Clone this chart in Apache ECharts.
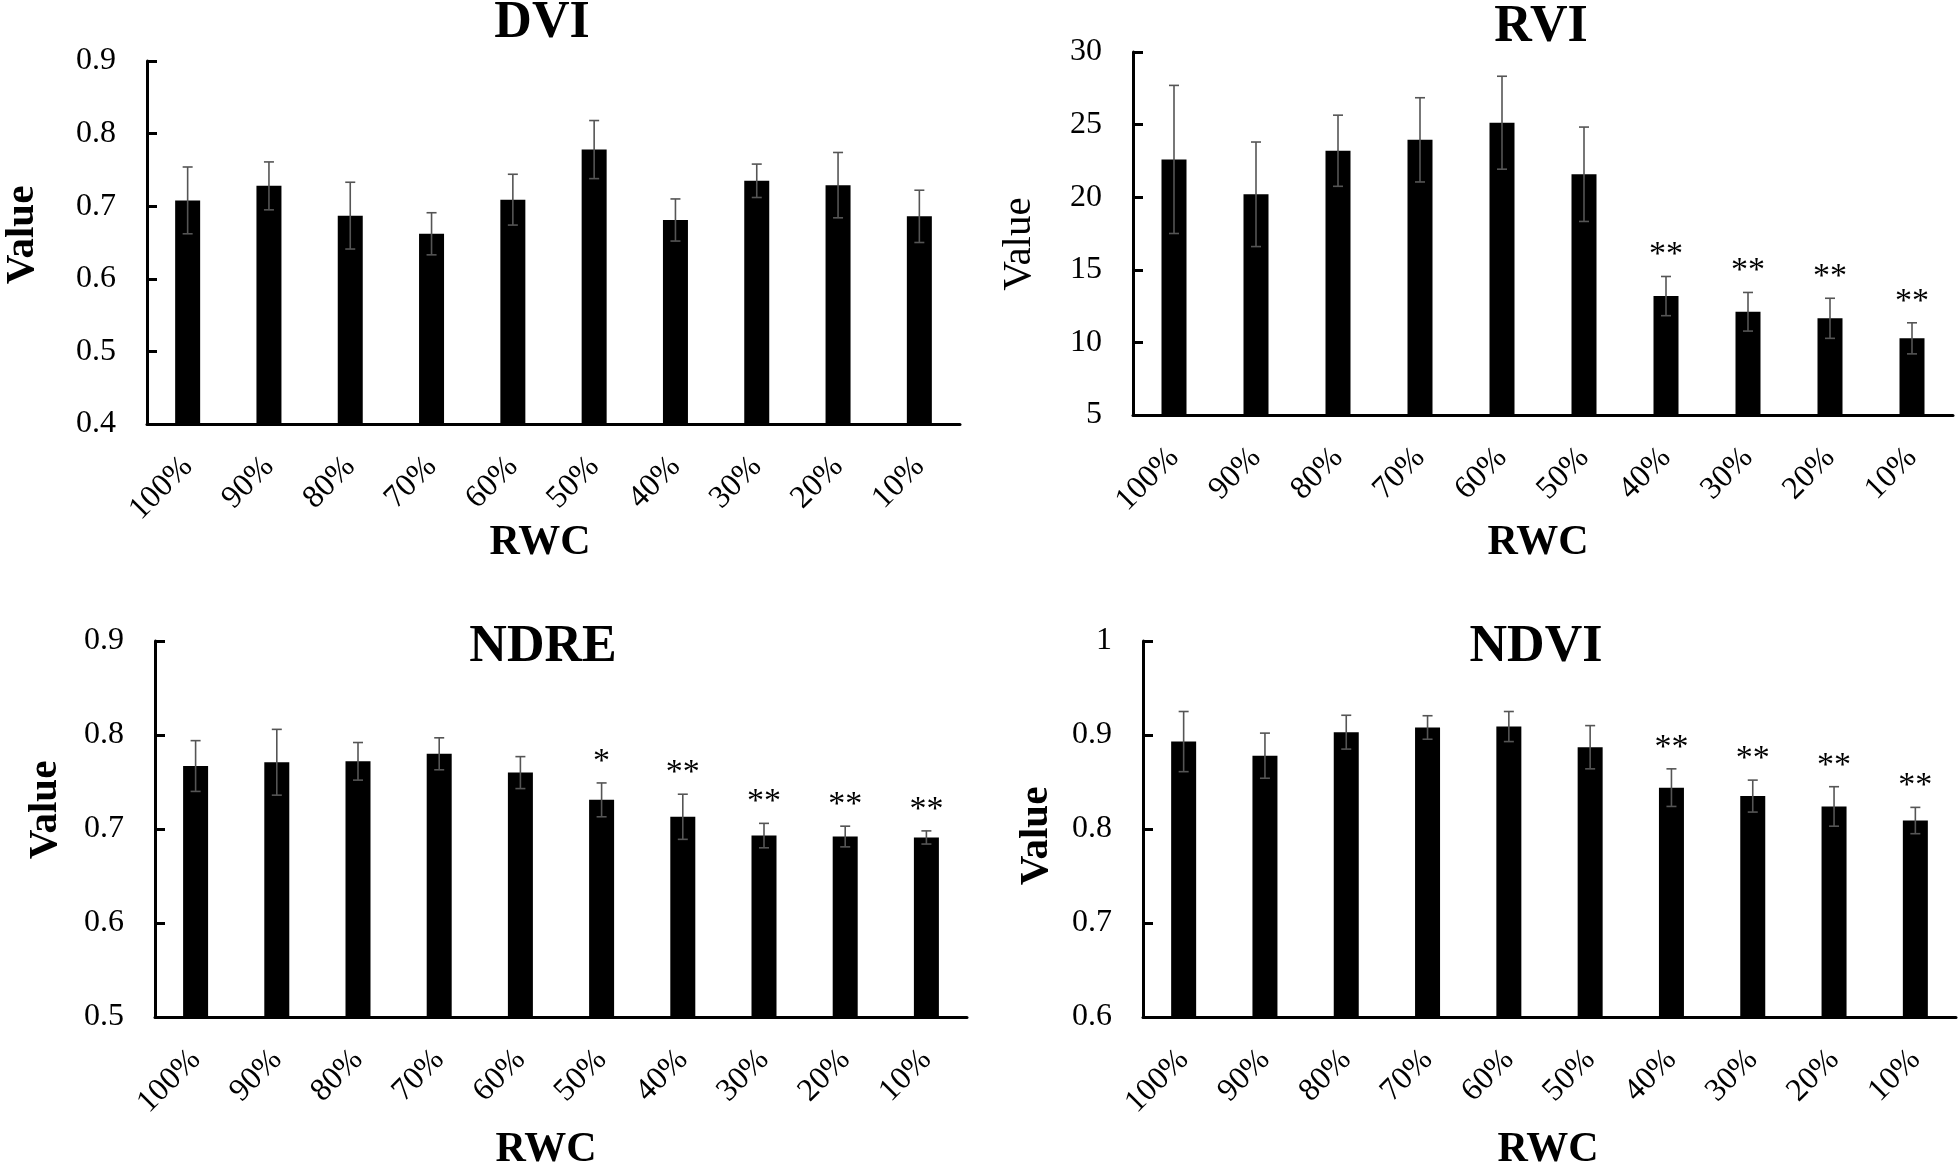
<!DOCTYPE html>
<html>
<head>
<meta charset="utf-8">
<style>
html,body{margin:0;padding:0;background:#fff;}
#chart{width:1959px;height:1168px;}
</style>
<script src="https://cdn.jsdelivr.net/npm/echarts@6/dist/echarts.min.js"></script>
</head>
<body>
<div id="chart"></div>
<script>
// ---- data ----
const categories = ['100%','90%','80%','70%','60%','50%','40%','30%','20%','10%'];

const dviMean = [0.708,0.728,0.687,0.662,0.709,0.778,0.681,0.735,0.729,0.686];
const dviErr  = [0.046,0.033,0.046,0.029,0.035,0.040,0.029,0.023,0.045,0.036];
const dviSig  = ['','','','','','','','','',''];
const dviTicks = ['0.4','0.5','0.6','0.7','0.8','0.9'];

const rviMean = [22.6,20.2,23.2,23.95,25.13,21.58,13.19,12.11,11.66,10.28];
const rviErr  = [5.1,3.6,2.45,2.9,3.2,3.25,1.35,1.33,1.38,1.07];
const rviSig  = ['','','','','','','**','**','**','**'];
const rviTicks = ['5','10','15','20','25','30'];

const ndreMean = [0.767,0.771,0.772,0.780,0.760,0.731,0.713,0.693,0.692,0.691];
const ndreErr  = [0.027,0.035,0.020,0.017,0.017,0.018,0.024,0.013,0.011,0.007];
const ndreSig  = ['','','','','','*','**','**','**','**'];
const ndreTicks = ['0.5','0.6','0.7','0.8','0.9'];

const ndviMean = [0.893,0.878,0.903,0.908,0.909,0.887,0.844,0.835,0.824,0.809];
const ndviErr  = [0.032,0.024,0.018,0.0125,0.016,0.023,0.020,0.017,0.021,0.014];
const ndviSig  = ['','','','','','','**','**','**','**'];
const ndviTicks = ['0.6','0.7','0.8','0.9','1'];

// ---- layout ----
const FONT = '"Liberation Serif","Times New Roman",serif';
const panels = [
  {title:'DVI',  mean:dviMean,  err:dviErr,  sig:dviSig,  ticks:dviTicks,
   grid:{left:147,top:61,width:813,height:363},
   titlePos:[542,24], valuePos:[22,235], valueBold:true, rwcPos:[540,543]},
  {title:'RVI',  mean:rviMean,  err:rviErr,  sig:rviSig,  ticks:rviTicks,
   grid:{left:1133,top:52,width:820,height:363},
   titlePos:[1541,28], valuePos:[1019,244], valueBold:false, rwcPos:[1538,543]},
  {title:'NDRE', mean:ndreMean, err:ndreErr, sig:ndreSig, ticks:ndreTicks,
   grid:{left:155,top:641,width:812,height:376},
   titlePos:[543,648], valuePos:[45,810], valueBold:true, rwcPos:[546,1150]},
  {title:'NDVI', mean:ndviMean, err:ndviErr, sig:ndviSig, ticks:ndviTicks,
   grid:{left:1143,top:641,width:813,height:376},
   titlePos:[1536,648], valuePos:[1036,836], valueBold:true, rwcPos:[1548,1150]}
];

function fmt(v){ return String(parseFloat(v.toFixed(2))); }

function makeRender(sig){
  return function(params, api){
    const x = api.value(0), m = api.value(1), e = api.value(2);
    const top = api.coord([x, m + e]);
    const bot = api.coord([x, m - e]);
    const cap = 5;
    const ls = {stroke:'#555', lineWidth:1.6};
    const children = [
      {type:'line', shape:{x1:top[0],y1:top[1],x2:bot[0],y2:bot[1]}, style:ls},
      {type:'line', shape:{x1:top[0]-cap,y1:top[1],x2:top[0]+cap,y2:top[1]}, style:ls},
      {type:'line', shape:{x1:bot[0]-cap,y1:bot[1],x2:bot[0]+cap,y2:bot[1]}, style:ls}
    ];
    const s = sig[params.dataIndex];
    if (s) {
      children.push({type:'text', style:{text:s, x:top[0], y:top[1]-4,
        textAlign:'center', textVerticalAlign:'bottom',
        font:'34px ' + FONT, fill:'#000'}});
    }
    return {type:'group', children};
  };
}

const grids = [], xAxes = [], yAxes = [], series = [], graphics = [];
panels.forEach((p, k) => {
  grids.push(Object.assign({containLabel:false}, p.grid));
  const tickVals = p.ticks.map(Number);
  xAxes.push({
    type:'category', gridIndex:k, data:categories,
    axisLine:{show:true, lineStyle:{color:'#000', width:3}},
    axisTick:{show:false},
    axisLabel:{rotate:45, margin:38, fontSize:32, fontFamily:FONT, color:'#000', interval:0},
    splitLine:{show:false}
  });
  yAxes.push({
    type:'value', gridIndex:k,
    min:tickVals[0], max:tickVals[tickVals.length-1],
    interval:tickVals[1]-tickVals[0],
    axisLine:{show:true, lineStyle:{color:'#000', width:3}},
    axisTick:{show:true, inside:true, length:10, lineStyle:{color:'#000', width:3}},
    axisLabel:{margin:31, fontSize:32, fontFamily:FONT, color:'#000', formatter:fmt},
    splitLine:{show:false}
  });
  series.push({
    type:'bar', xAxisIndex:k, yAxisIndex:k, data:p.mean,
    barWidth:25, itemStyle:{color:'#000'}, silent:true
  });
  series.push({
    type:'custom', xAxisIndex:k, yAxisIndex:k,
    data:p.mean.map((m,i)=>[i, m, p.err[i]]),
    encode:{x:0, y:1},
    renderItem:makeRender(p.sig), silent:true, z:5
  });
  graphics.push({type:'text', x:p.titlePos[0], y:p.titlePos[1], style:{
    text:p.title, font:'bold 52px ' + FONT, fill:'#000',
    textAlign:'center', textVerticalAlign:'middle'}});
  graphics.push({type:'text', x:p.valuePos[0], y:p.valuePos[1], rotation:Math.PI/2, style:{
    text:'Value', font:(p.valueBold?'bold ':'') + '41px ' + FONT, fill:'#000',
    textAlign:'center', textVerticalAlign:'middle'}});
  graphics.push({type:'text', x:p.rwcPos[0], y:p.rwcPos[1], style:{
    text:'RWC', font:'bold 42px ' + FONT, fill:'#000',
    textAlign:'center', textVerticalAlign:'middle'}});
});

const chart = echarts.init(document.getElementById('chart'), null, {renderer:'canvas'});
chart.setOption({
  backgroundColor:'#fff',
  animation:false,
  grid:grids, xAxis:xAxes, yAxis:yAxes, series:series,
  graphic:graphics
});
</script>
</body>
</html>
